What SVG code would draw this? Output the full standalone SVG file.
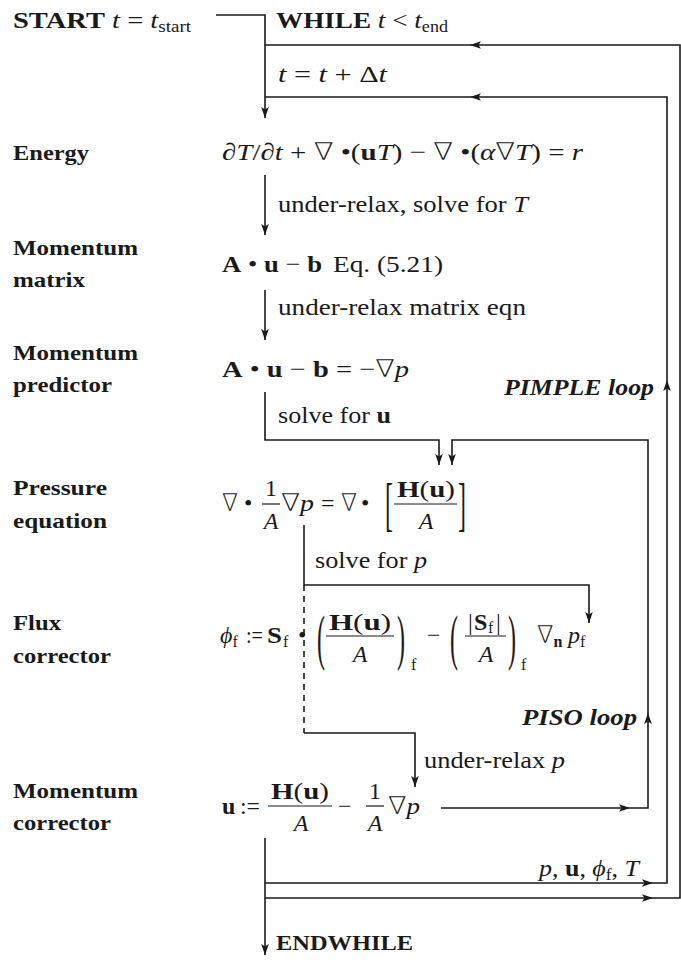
<svg xmlns="http://www.w3.org/2000/svg" xmlns:xlink="http://www.w3.org/1999/xlink" width="681" height="960" viewBox="0 0 681 960">
<style>
text{font-family:"Liberation Serif","Times New Roman",serif;fill:#1a1a1a}
.lb{font-size:22px;font-weight:bold}
.tx{font-size:24px}
.i{font-style:italic}
.b{font-weight:bold}
.bi{font-weight:bold;font-style:italic}
.sub{font-size:16px}
.nb{font-family:"DejaVu Sans",sans-serif;font-weight:200}
.ln{fill:none;stroke:#1a1a1a;stroke-width:1.6}
.ds{stroke-dasharray:6 5}
.bar{stroke:#1a1a1a;stroke-width:1.2}
.ah{fill:#1a1a1a}
</style>
<defs>
<path id="ah" d="M0,0 L-11,-3.8 L-8.5,0 L-11,3.8 Z"/>
<marker id="m" viewBox="-12 -5 13 10" refX="0" refY="0" markerWidth="13" markerHeight="10" markerUnits="userSpaceOnUse" orient="auto">
<path d="M0,0 L-11,-3.8 L-8.5,0 L-11,3.8 Z" fill="#1a1a1a"/>
</marker>
</defs>
<rect width="681" height="960" fill="#ffffff"/>

<g id="connectors">
<path class="ln" d="M216,15 H265 V118" marker-end="url(#m)"/>
<path class="ln" d="M265,898 H680 V45 H265"/>
<path class="ln" d="M265,883 H667 V97 H265"/>
<path class="ln" d="M265,175 V235" marker-end="url(#m)"/>
<path class="ln" d="M265,290 V340" marker-end="url(#m)"/>
<path class="ln" d="M265,392 V440 H439 V465" marker-end="url(#m)"/>
<path class="ln" d="M441,808 H648 V440 H452 V465" marker-end="url(#m)"/>
<path class="ln" d="M304,525 V585 H589 V623" marker-end="url(#m)"/>
<path class="ln ds" d="M304,585 V733"/>
<path class="ln" d="M304,733 H415 V787" marker-end="url(#m)"/>
<path class="ln" d="M265,838 V955" marker-end="url(#m)"/>
<use xlink:href="#ah" class="ah" transform="translate(470,45) rotate(180)"/>
<use xlink:href="#ah" class="ah" transform="translate(470,97) rotate(180)"/>
<use xlink:href="#ah" class="ah" transform="translate(667,380) rotate(-90)"/>
<use xlink:href="#ah" class="ah" transform="translate(648,713) rotate(-90)"/>
<use xlink:href="#ah" class="ah" transform="translate(630,808)"/>
<use xlink:href="#ah" class="ah" transform="translate(653,883)"/>
<use xlink:href="#ah" class="ah" transform="translate(653,898)"/>
<text class="tx" x="278" y="212" textLength="250" lengthAdjust="spacingAndGlyphs">under-relax, solve for <tspan class="i">T</tspan></text>
<text class="tx" x="278" y="315" textLength="248" lengthAdjust="spacingAndGlyphs">under-relax matrix eqn</text>
<text class="tx" x="278" y="423" textLength="113" lengthAdjust="spacingAndGlyphs">solve for <tspan class="b">u</tspan></text>
<text class="tx" x="315" y="568" textLength="112" lengthAdjust="spacingAndGlyphs">solve for <tspan class="i">p</tspan></text>
<text class="tx" x="424" y="768" textLength="141" lengthAdjust="spacingAndGlyphs">under-relax <tspan class="i">p</tspan></text>
<text class="tx bi" x="504" y="395" textLength="150" lengthAdjust="spacingAndGlyphs">PIMPLE loop</text>
<text class="tx bi" x="522" y="725" textLength="115" lengthAdjust="spacingAndGlyphs">PISO loop</text>
<text class="tx" x="539" y="876" textLength="100" lengthAdjust="spacingAndGlyphs"><tspan class="i">p</tspan>, <tspan class="b">u</tspan>, <tspan class="i">ϕ</tspan><tspan class="sub" dy="4">f</tspan><tspan dy="-4">, </tspan><tspan class="i">T</tspan></text>
</g>

<g id="start">
<text class="tx" x="13" y="28" textLength="178" lengthAdjust="spacingAndGlyphs"><tspan class="b">START</tspan> <tspan class="i">t</tspan> = <tspan class="i">t</tspan><tspan class="sub" dy="4">start</tspan></text>
</g>

<g id="while">
<text class="tx" x="276" y="28" textLength="172" lengthAdjust="spacingAndGlyphs"><tspan class="b">WHILE</tspan> <tspan class="i">t</tspan> &lt; <tspan class="i">t</tspan><tspan class="sub" dy="4">end</tspan></text>
</g>

<g id="timestep">
<text class="tx" x="278" y="82" textLength="109" lengthAdjust="spacingAndGlyphs"><tspan class="i">t</tspan> = <tspan class="i">t</tspan> + Δ<tspan class="i">t</tspan></text>
</g>

<g id="energy">
<text class="lb" x="13" y="160" textLength="76" lengthAdjust="spacingAndGlyphs">Energy</text>
<text class="tx" x="222" y="160" textLength="361" lengthAdjust="spacingAndGlyphs">∂<tspan class="i">T</tspan>/∂<tspan class="i">t</tspan> + <tspan class="nb">∇</tspan> •(<tspan class="b">u</tspan><tspan class="i">T</tspan>) − <tspan class="nb">∇</tspan> •(<tspan class="i">α</tspan><tspan class="nb">∇</tspan><tspan class="i">T</tspan>) = <tspan class="i">r</tspan></text>
</g>

<g id="momentum-matrix">
<text class="lb" x="13" y="255" textLength="125" lengthAdjust="spacingAndGlyphs">Momentum</text>
<text class="lb" x="13" y="287" textLength="72" lengthAdjust="spacingAndGlyphs">matrix</text>
<text class="tx" x="222" y="272" textLength="100" lengthAdjust="spacingAndGlyphs"><tspan class="b">A</tspan> • <tspan class="b">u</tspan> − <tspan class="b">b</tspan></text>
<text class="tx" x="333" y="272" textLength="110" lengthAdjust="spacingAndGlyphs">Eq. (5.21)</text>
</g>

<g id="momentum-predictor">
<text class="lb" x="13" y="360" textLength="125" lengthAdjust="spacingAndGlyphs">Momentum</text>
<text class="lb" x="13" y="392" textLength="99" lengthAdjust="spacingAndGlyphs">predictor</text>
<text class="tx" x="222" y="377" textLength="187" lengthAdjust="spacingAndGlyphs"><tspan class="b">A</tspan> • <tspan class="b">u</tspan> − <tspan class="b">b</tspan> = −<tspan class="nb">∇</tspan><tspan class="i">p</tspan></text>
</g>

<g id="pressure">
<text class="lb" x="13" y="495" textLength="94" lengthAdjust="spacingAndGlyphs">Pressure</text>
<text class="lb" x="13" y="528" textLength="94" lengthAdjust="spacingAndGlyphs">equation</text>
<text class="tx nb" x="222" y="511" textLength="16" lengthAdjust="spacingAndGlyphs">∇</text>
<text class="tx" x="244" y="511">•</text>
<text class="tx" x="271" y="496" text-anchor="middle">1</text>
<line class="bar" x1="262" y1="504" x2="280" y2="504"/>
<text class="tx i" x="271" y="529" text-anchor="middle">A</text>
<text class="tx" x="281" y="511" textLength="33" lengthAdjust="spacingAndGlyphs"><tspan class="nb">∇</tspan><tspan class="i">p</tspan></text>
<text class="tx" x="321" y="511">=</text>
<text class="tx nb" x="341" y="511" textLength="16" lengthAdjust="spacingAndGlyphs">∇</text>
<text class="tx" x="361" y="511">•</text>
<text class="tx" transform="translate(385,524.2) scale(1,2.45)">[</text>
<text class="tx" x="397" y="497" textLength="58" lengthAdjust="spacingAndGlyphs"><tspan class="b">H</tspan>(<tspan class="b">u</tspan>)</text>
<line class="bar" x1="394" y1="504" x2="457" y2="504"/>
<text class="tx i" x="426" y="529" text-anchor="middle">A</text>
<text class="tx" transform="translate(458,524.2) scale(1,2.45)">]</text>
</g>

<g id="flux">
<text class="lb" x="13" y="630" textLength="48" lengthAdjust="spacingAndGlyphs">Flux</text>
<text class="lb" x="13" y="663" textLength="98" lengthAdjust="spacingAndGlyphs">corrector</text>
<text class="tx" x="220" y="643"><tspan class="i">ϕ</tspan><tspan class="sub" dy="4">f</tspan></text>
<text class="tx" x="246" y="643" textLength="17" lengthAdjust="spacingAndGlyphs">:=</text>
<text class="tx b" x="267" y="643" textLength="15" lengthAdjust="spacingAndGlyphs">S</text>
<text class="sub" x="283" y="647">f</text>
<text class="tx" x="298" y="643">•</text>
<text class="tx" transform="translate(317,657.6) scale(1,2.55)">(</text>
<text class="tx" x="329" y="630" textLength="62" lengthAdjust="spacingAndGlyphs"><tspan class="b">H</tspan>(<tspan class="b">u</tspan>)</text>
<line class="bar" x1="326" y1="636" x2="394" y2="636"/>
<text class="tx i" x="360" y="662" text-anchor="middle">A</text>
<text class="tx" transform="translate(397,657.6) scale(1,2.55)">)</text>
<text class="sub" x="411" y="670">f</text>
<text class="tx" x="427" y="643">−</text>
<text class="tx" transform="translate(450,657.6) scale(1,2.55)">(</text>
<text class="tx" x="468" y="630">|</text>
<text class="tx b" x="474" y="630">S</text>
<text class="sub" x="488" y="633">f</text>
<text class="tx" x="496" y="630">|</text>
<line class="bar" x1="465" y1="636" x2="506" y2="636"/>
<text class="tx i" x="486" y="662" text-anchor="middle">A</text>
<text class="tx" transform="translate(508,657.6) scale(1,2.55)">)</text>
<text class="sub" x="521" y="670">f</text>
<text class="tx" x="537" y="643"><tspan class="nb">∇</tspan><tspan class="sub b" dy="4">n</tspan></text>
<text class="tx" x="568" y="643"><tspan class="i">p</tspan><tspan class="sub" dy="4">f</tspan></text>
</g>

<g id="momentum-corrector">
<text class="lb" x="13" y="798" textLength="125" lengthAdjust="spacingAndGlyphs">Momentum</text>
<text class="lb" x="13" y="830" textLength="98" lengthAdjust="spacingAndGlyphs">corrector</text>
<text class="tx b" x="222" y="814">u</text>
<text class="tx" x="240" y="814" textLength="20" lengthAdjust="spacingAndGlyphs">:=</text>
<text class="tx" x="271" y="799" textLength="58" lengthAdjust="spacingAndGlyphs"><tspan class="b">H</tspan>(<tspan class="b">u</tspan>)</text>
<line class="bar" x1="268" y1="806" x2="332" y2="806"/>
<text class="tx i" x="301" y="831" text-anchor="middle">A</text>
<text class="tx" x="338" y="814">−</text>
<text class="tx" x="375" y="799" text-anchor="middle">1</text>
<line class="bar" x1="366" y1="806" x2="384" y2="806"/>
<text class="tx i" x="375" y="831" text-anchor="middle">A</text>
<text class="tx" x="388" y="814" textLength="32" lengthAdjust="spacingAndGlyphs"><tspan class="nb">∇</tspan><tspan class="i">p</tspan></text>
</g>

<g id="endwhile">
<text class="lb" x="276" y="950" textLength="137" lengthAdjust="spacingAndGlyphs">ENDWHILE</text>
</g>
</svg>
